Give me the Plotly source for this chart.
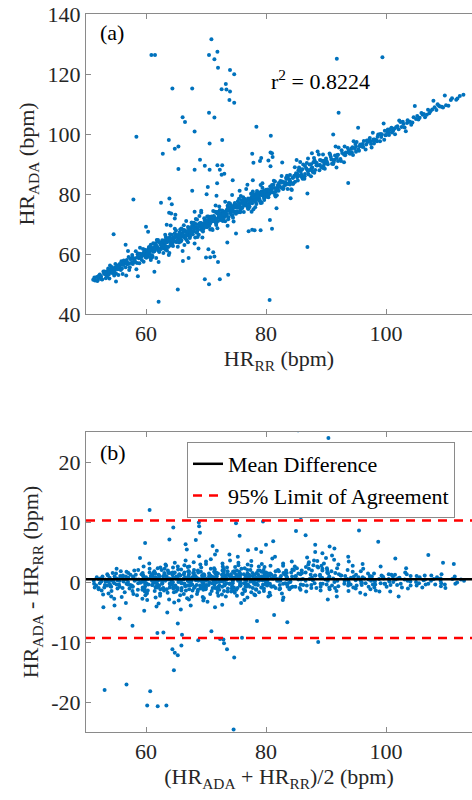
import plotly.graph_objects as go

# Heart rate pairs: HR_RR and the difference HR_ADA - HR_RR (bpm)
band_rr = [
    51.2, 51.5, 51.8, 52.0, 52.3, 52.5, 52.7, 53.0, 53.1, 53.4,
    53.6, 53.9, 54.1, 54.3, 54.6, 54.8, 55.0, 55.2, 55.5, 55.7,
    55.9, 56.1, 56.4, 56.6, 56.8, 57.0, 57.3, 57.5, 57.7, 57.9,
    58.2, 58.4, 58.6, 58.8, 59.1, 59.3, 59.5, 59.7, 59.9,
    51.4, 51.9, 52.4, 52.9, 53.3, 53.8, 54.4, 54.9, 55.4, 55.8,
    56.3, 56.9, 57.4, 57.8, 58.3, 58.9, 59.4, 59.8,
    60.1, 60.3, 60.5, 60.6, 60.8, 61.0, 61.2, 61.3, 61.5, 61.7,
    61.9, 62.0, 62.2, 62.4, 62.5, 62.7, 62.9, 63.1, 63.2, 63.4,
    63.6, 63.8, 63.9, 64.1, 64.3, 64.5, 64.6, 64.8, 65.0, 65.2,
    65.3, 65.5, 65.7, 65.9, 66.0, 66.2, 66.4, 66.6, 66.7, 66.9,
    67.1, 67.3, 67.4, 67.6, 67.8, 68.0, 68.1, 68.3, 68.5, 68.7,
    68.8, 69.0, 69.2, 69.4, 69.5, 69.7, 69.9,
    60.2, 60.7, 61.1, 61.6, 62.1, 62.6, 63.0, 63.5, 64.0, 64.4,
    64.9, 65.4, 65.8, 66.3, 66.8, 67.2, 67.7, 68.2, 68.6, 69.1, 69.6,
    60.4, 60.9, 61.4, 61.8, 62.3, 62.8, 63.3, 63.7, 64.2, 64.7,
    65.1, 65.6, 66.1, 66.5, 67.0, 67.5, 67.9, 68.4, 68.9, 69.3, 69.8,
    70.0, 70.2, 70.4, 70.5, 70.7, 70.9, 71.1, 71.2, 71.4, 71.6,
    71.8, 71.9, 72.1, 72.3, 72.5, 72.6, 72.8, 73.0, 73.2, 73.3,
    73.5, 73.7, 73.9, 74.0, 74.2, 74.4, 74.6, 74.7, 74.9, 75.1,
    75.3, 75.4, 75.6, 75.8, 76.0, 76.1, 76.3, 76.5, 76.7, 76.8,
    77.0, 77.2, 77.4, 77.5, 77.7, 77.9, 78.1, 78.2, 78.4, 78.6,
    78.8, 78.9, 79.1, 79.3, 79.5, 79.6, 79.8,
    70.3, 70.8, 71.3, 71.7, 72.2, 72.7, 73.1, 73.6, 74.1, 74.5,
    75.0, 75.5, 75.9, 76.4, 76.9, 77.3, 77.8, 78.3, 78.7, 79.2, 79.7,
    70.1, 70.6, 71.0, 71.5, 72.0, 72.4, 72.9, 73.4, 73.8, 74.3,
    74.8, 75.2, 75.7, 76.2, 76.6, 77.1, 77.6, 78.0, 78.5, 79.0, 79.4, 79.9,
    80.1, 80.4, 80.7, 80.9, 81.2, 81.5, 81.8, 82.0, 82.3, 82.6,
    82.9, 83.1, 83.4, 83.7, 84.0, 84.2, 84.5, 84.8, 85.1, 85.3,
    85.6, 85.9, 86.2, 86.4, 86.7, 87.0, 87.3, 87.5, 87.8, 88.1,
    88.4, 88.6, 88.9, 89.2, 89.5, 89.7,
    80.3, 80.8, 81.4, 82.1, 82.7, 83.3, 83.9, 84.6, 85.2, 85.8,
    86.5, 87.1, 87.7, 88.3, 89.0, 89.6,
    90.0, 90.3, 90.6, 90.9, 91.2, 91.5, 91.8, 92.1, 92.4, 92.7,
    93.0, 93.3, 93.6, 93.9, 94.2, 94.5, 94.8, 95.1, 95.4, 95.7,
    96.0, 96.3, 96.6, 96.9, 97.2, 97.5, 97.8, 98.1, 98.4, 98.7,
    99.0, 99.3, 99.6, 99.9,
    90.2, 90.8, 91.4, 92.0, 92.6, 93.2, 93.8, 94.4, 95.0, 95.6,
    96.2, 96.8, 97.4, 98.0, 98.6, 99.2, 99.8,
    100.2, 100.5, 100.9, 101.2, 101.5, 101.9, 102.2, 102.6, 102.9, 103.3,
    103.6, 104.0, 104.4, 104.8, 105.2, 105.6, 106.1, 106.5, 107.0, 107.4,
    107.9, 108.4, 108.8, 109.3, 109.8, 110.4, 111.0, 111.7, 112.3, 112.9,
    100.0, 100.7, 101.4, 102.1, 102.8, 103.5, 104.2, 105.0, 105.9, 106.8,
    107.7, 108.6, 109.5,
]
band_diff = [
    0.2, -0.3, 0.5, -0.6, 0.9, 0.1, -1.2, 0.4, 1.1, -0.5,
    0.7, -2.1, 0.3, 1.4, -0.8, 0.6, -1.5, 1.0, 0.2, -0.4,
    1.7, -2.8, 0.5, -1.0, 1.2, 0.0, -1.7, 0.8, 2.0, -0.6,
    0.4, -3.5, 1.3, -0.2, 0.9, -1.3, 2.2, 0.3, -0.9,
    0.8, -0.9, -0.2, 1.3, -1.4, 0.0, -0.7, 1.8, -2.4, 0.6,
    1.5, -0.3, 0.9, -1.1, 2.6, -2.0, 0.1, 1.6,
    0.5, -1.1, 1.6, -0.4, 2.3, -2.2, 0.8, -0.1, 1.2, -3.0,
    0.3, 2.7, -1.5, 0.9, -0.6, 1.9, -2.6, 0.2, 3.2, -1.0,
    0.6, -4.1, 1.4, -0.3, 2.1, -1.8, 0.7, 3.6, -0.9, 1.1,
    -2.9, 0.4, 2.5, -1.3, -0.2, 1.8, -3.4, 0.9, 4.3, -0.7,
    1.5, -2.0, 0.1, 2.9, -1.2, 0.6, -4.6, 1.7, 3.0, -0.5,
    -2.4, 1.0, 5.2, -1.6, 0.3, 2.2, -0.8,
    -0.7, 0.9, -1.9, 2.0, -0.4, 1.1, -1.2, 0.4, 2.6, -0.9,
    1.3, 0.0, -1.6, 3.3, 0.5, -0.6, 1.9, -2.7, 0.2, 1.2, -1.1,
    1.3, 0.2, -0.5, 0.7, 1.5, -0.2, 2.4, -1.4, 0.1, 0.6,
    -1.1, 1.6, 0.8, -0.3, 2.0, 1.0, -0.4, 0.6, 3.8, -0.6, 1.4,
    0.4, -1.3, 2.1, 0.9, -2.5, 1.6, -0.2, 3.1, 0.6, -1.0,
    1.9, -3.3, 0.3, 2.4, -0.7, 1.1, -1.8, 0.5, 4.2, -0.4,
    1.3, -2.1, 0.8, 2.8, -1.1, 0.1, -3.8, 1.7, 0.6, -0.9,
    2.3, -1.5, 0.2, 3.5, -0.6, 1.0, -2.3, 0.7, 5.0, -0.3,
    1.5, -1.4, 0.3, 2.6, -0.8, -3.0, 1.2, 0.4, -1.7, 2.0,
    0.9, -0.5, 3.9, -2.2, 0.6, 1.4, -0.9,
    -0.5, 0.8, 1.4, -2.0, 0.0, 1.8, -0.8, 2.5, -0.3, 1.2,
    -1.6, 0.5, 2.0, -0.2, -1.2, 1.0, 3.0, -1.0, 0.2, 1.6, -0.4,
    1.1, -0.1, 0.5, 2.6, -1.0, 0.7, 1.3, -0.6, 1.8, 0.3,
    2.2, 0.9, -1.3, 1.4, 0.2, -2.0, 0.6, 1.9, -0.2, 0.9, 2.7, 0.1,
    0.3, -1.5, 1.8, 0.6, -0.7, 2.7, -2.2, 1.0, 0.2, 3.4,
    -1.1, 0.8, 1.6, -0.4, 2.3, -2.6, 0.9, 4.1, 1.3, -0.8,
    2.9, 0.5, 3.6, -1.3, 1.9, 4.8, 0.7, 2.4, -0.5, 3.1,
    1.2, 5.6, -1.0, 2.0, 3.7, 0.4,
    1.2, -0.3, 0.6, -1.0, 1.5, -0.2, 0.9, -0.9, 0.4, 1.6,
    0.2, -0.6, 1.1, 2.2, 0.7, -0.3,
    1.8, -0.4, 2.9, 0.6, -1.2, 1.3, 0.2, 3.4, -0.7, 1.0,
    -2.4, 0.5, 1.7, -0.2, 0.9, -1.5, 0.3, 2.2, -0.6, 0.8,
    -0.1, 1.4, -1.8, 0.4, 0.9, -0.8, 2.6, 0.1, -0.4, 1.1,
    -1.4, 0.6, 3.9, -0.3,
    0.2, 1.5, 0.0, -1.0, 2.0, -0.3, 0.7, 1.2, -0.9, 0.3,
    -0.5, 1.0, 0.2, -1.2, 0.5, -0.2, 1.3,
    0.5, -0.8, 1.2, 0.0, -1.6, 0.7, 2.3, -0.3, 0.4, -2.4,
    1.0, 0.1, -0.6, 4.5, 0.8, -0.2, 0.3, -0.9, 1.1, 0.2,
    3.2, -0.4, 0.6, -0.2, 3.0, -1.0, 0.9, -0.3, 0.4, 0.2,
    -0.3, 0.9, 0.4, -0.5, 1.3, 0.2, -1.1, 0.0, 1.1, -0.4,
    0.5, 1.3, -0.7,
]

# more points from the dense core of the band
core_rr = [
    52.1, 52.6, 53.2, 53.7, 54.2, 54.7, 55.1, 55.6, 56.0, 56.5,
    56.7, 57.1, 57.6, 58.0, 58.5, 59.0, 59.2, 59.6,
    53.5, 54.0, 54.5, 55.3, 56.2, 57.2, 58.1, 58.7, 59.6, 57.0, 55.0, 59.0,
    60.0, 60.5, 61.0, 61.5, 62.0, 62.5, 63.0, 63.5, 64.0, 64.5,
    65.0, 65.5, 66.0, 66.5, 67.0, 67.5, 68.0, 68.5, 69.0, 69.5,
    60.3, 60.8, 61.3, 61.8, 62.3, 62.8, 63.3, 63.8, 64.3, 64.8,
    65.3, 65.8, 66.3, 66.8, 67.3, 67.8, 68.3, 68.8, 69.3, 69.8,
    60.6, 61.2, 61.9, 62.6, 63.2, 63.9, 64.6, 65.2, 65.9, 66.6,
    67.2, 67.9, 68.6, 69.2, 69.9, 62.1, 64.1, 66.1, 68.1, 69.4,
    70.0, 70.5, 71.0, 71.5, 72.0, 72.5, 73.0, 73.5, 74.0, 74.5,
    75.0, 75.5, 76.0, 76.5, 77.0, 77.5, 78.0, 78.5, 79.0, 79.5,
    70.2, 70.7, 71.2, 71.7, 72.2, 72.7, 73.2, 73.7, 74.2, 74.7,
    75.2, 75.7, 76.2, 76.7, 77.2, 77.7, 78.2, 78.7, 79.2, 79.7,
    70.4, 71.1, 71.8, 72.4, 73.1, 73.8, 74.4, 75.1, 75.8, 76.4,
    77.1, 77.8, 78.4, 79.1, 79.8, 71.6, 73.6, 75.6, 77.6, 79.4,
    80.0, 80.5, 81.0, 81.5, 82.0, 82.5, 83.0, 83.5, 84.0, 84.5,
    85.0, 85.5, 86.0, 86.5, 87.0, 87.5, 88.0, 88.5, 89.0, 89.5,
    80.2, 80.9, 81.6, 82.4, 83.2, 84.0, 84.7, 85.4, 86.1, 86.8,
    87.6, 88.2, 88.8, 89.4, 81.3, 83.6, 85.7, 87.9, 89.8, 84.3,
    90.1, 90.7, 91.3, 91.9, 92.5, 93.1, 93.7, 94.3, 94.9, 95.5,
    96.1, 96.7, 97.3, 97.9, 98.5, 99.1, 99.7, 91.6, 94.6, 97.6,
    100.3, 101.0, 101.7, 102.4, 103.1, 103.8, 104.6, 105.4, 106.3, 107.2,
    108.1, 109.0, 110.0, 110.8, 111.9,
]
core_diff = [
    0.6, -1.0, 0.1, 1.5, -0.4, -1.9, 0.3, 1.1, -0.8, 0.5,
    -3.9, 1.9, -0.5, 0.2, -1.5, 1.1, -0.1, -2.2,
    -0.9, 2.2, 0.1, -0.4, 0.9, -2.5, -0.7, 1.5, 0.6, 4.0, -4.2, 3.1,
    -0.3, 1.8, -1.4, 0.5, 2.2, -0.8, 0.9, -2.3, 1.6, -0.1,
    2.8, -1.7, 0.6, 1.3, -3.1, 0.2, 2.4, -1.0, 0.7, -2.0,
    1.0, -2.8, 0.1, 2.9, -0.9, 0.4, -1.9, 1.2, -0.5, 2.1,
    0.3, -1.0, 1.7, -2.2, 0.8, -0.4, 3.4, 1.1, -1.3, 0.5,
    -1.6, 2.4, -0.2, 0.3, 1.5, -3.6, 0.9, -0.6, 2.6, -1.4,
    0.0, 1.6, -2.9, 4.6, 0.2, -4.8, 5.4, -5.1, 6.0, -3.9,
    -0.8, 1.7, -2.7, 0.4, 2.0, -1.2, 0.7, -0.2, 1.5, -2.4,
    0.9, 2.9, -0.6, 0.3, -1.9, 1.2, 0.0, 2.5, -1.3, 0.6,
    2.3, -0.5, 1.0, -1.5, 3.6, 0.1, -2.3, 0.9, 1.9, -0.7,
    0.4, -1.8, 2.7, 0.8, -0.4, 1.5, -2.6, 0.3, 1.1, -1.7,
    0.6, -3.1, 2.2, -0.9, 0.5, 3.2, -1.6, 1.3, -0.2, 2.0,
    -0.8, 0.4, 1.7, -2.1, 0.9, 4.6, -4.2, 5.5, -3.5, 4.2,
    1.4, -0.6, 2.0, -1.8, 0.7, 1.5, -0.3, 2.6, 0.1, -1.2,
    1.9, 3.3, -0.4, 2.8, 0.5, -1.6, 4.0, 1.0, 2.3, -0.8,
    -1.1, 0.8, -2.4, 1.9, 0.5, -0.8, 1.4, 2.5, -1.0, 3.5,
    1.1, -0.2, 4.4, 1.6, 3.1, -1.9, 5.0, 2.7, -1.4, -3.0,
    0.9, 2.3, -0.6, 1.1, -1.5, 2.7, 0.1, -0.4, 1.8, -1.1,
    0.6, -0.2, 1.4, 0.3, -0.9, 0.8, -1.6, 4.2, 3.0, -2.1,
    1.2, -0.5, 0.6, 1.6, -0.9, 0.3, 1.0, -0.6, 0.4, -0.3,
    0.8, 0.2, -0.4, 0.5, -0.1,
]

# tightly clustered points close to zero difference
tight_rr = [
    53.3, 53.8, 54.3, 54.8, 55.3, 55.8, 56.2, 56.7, 57.2, 57.7,
    58.2, 58.6, 59.1, 59.6, 60.05, 60.45, 60.85, 61.25, 61.65, 62.05,
    62.45, 62.85, 63.25, 63.65, 64.05, 64.45, 64.85, 65.25, 65.65, 66.05,
    66.45, 66.85, 67.25, 67.65, 68.05, 68.45, 68.85, 69.25, 69.65, 70.05,
    70.45, 70.85, 71.25, 71.65, 72.05, 72.45, 72.85, 73.25, 73.65, 74.05,
    74.45, 74.85, 75.25, 75.65, 76.05, 76.45, 76.85, 77.25, 77.65, 78.05,
    78.45, 78.85, 79.25, 79.65, 80.05, 80.45, 80.85, 81.25, 81.65, 82.05,
    82.45, 82.85, 83.25, 83.65, 84.05, 84.45, 84.85, 85.25, 85.65, 86.05,
    86.45, 86.85, 87.25, 87.65, 88.05, 88.45, 88.85, 89.25, 89.65, 90.05,
    91.0, 92.0, 93.0, 94.0, 95.0, 96.0, 97.0, 98.0, 99.0, 100.5,
    60.15, 60.55, 60.95, 61.35, 61.75, 62.15, 62.55, 62.95, 63.35, 63.75,
    64.15, 64.55, 64.95, 65.35, 65.75, 66.15, 66.55, 66.95, 67.35, 67.75,
    68.15, 68.55, 68.95, 69.35, 69.75, 70.15, 70.55, 70.95, 71.35, 71.75,
    72.15, 72.55, 72.95, 73.35, 73.75, 74.15, 74.55, 74.95, 75.35, 75.75,
    76.15, 76.55, 76.95, 77.35, 77.75, 78.15, 78.55, 78.95, 79.35, 79.75,
    80.15, 80.55, 80.95, 81.35, 81.75, 82.15, 82.55, 82.95, 83.35, 83.75,
]
tight_diff = [
    0.3, -0.6, 0.9, -0.2, 0.5, -1.1, 0.1, 0.7, -0.4, 1.2,
    -0.8, 0.4, -0.1, 0.8, -1.3, 0.6, 1.4, -0.5, 0.2, -0.9,
    1.1, -0.3, 0.5, 1.6, -1.2, 0.0, 0.8, -0.7, 1.3, 0.4,
    -1.0, 0.2, 1.5, -0.6, 0.7, -1.4, 0.3, 1.0, -0.2, 0.9,
    -0.9, 1.4, 0.1, -0.5, 1.2, 0.6, -1.3, 0.4, 1.7, -0.3,
    0.8, -1.1, 0.2, 1.3, -0.6, 0.5, 1.0, -1.5, 0.1, 0.7,
    -0.4, 1.6, 0.3, -0.9, 1.1, -0.2, 0.6, 1.8, -0.7, 0.2,
    1.3, -1.2, 0.5, 2.0, 0.0, 1.0, -0.8, 1.5, 0.4, 2.2,
    -0.5, 1.2, 2.6, 0.3, -1.0, 1.9, 0.7, -0.3, 1.4, 0.6,
    -0.9, 1.1, 0.2, -0.6, 0.8, -0.2, 0.5, -0.4, 0.9, 0.1,
    -0.2, 0.9, -1.6, 0.4, 1.0, -0.7, 0.2, 1.5, -1.1, 0.5,
    0.7, -0.4, 1.2, -0.9, 0.1, 1.8, -0.3, 0.6, -1.4, 1.0,
    0.3, -0.8, 1.3, 0.0, -0.5, 1.1, -1.2, 0.4, 0.9, -0.1,
    1.6, -0.6, 0.2, 1.0, -1.5, 0.7, -0.2, 1.4, 0.3, -1.0,
    0.5, 1.2, -0.7, 0.1, 1.9, -0.3, 0.8, -1.2, 0.4, 1.3,
    -0.4, 0.6, 1.1, -0.8, 0.2, 1.5, -0.5, 0.9, 2.1, -0.2,
]

# scattered outliers (HR_RR, HR_ADA - HR_RR)
outlier_rr = [
    60.9, 61.5, 70.9, 70.5, 71.9, 71.4, 72.0, 74.0, 74.7, 72.6,
    73.4, 74.0, 73.3, 73.9, 74.7, 64.4, 67.7, 91.8, 99.4, 70.5,
    71.4, 66.1, 66.5, 92.1, 78.4, 58.4, 63.8, 64.8, 65.4, 68.1,
    72.7, 70.6, 80.8, 81.0, 62.8, 65.4, 69.0, 69.8, 70.6, 71.9,
    72.7, 72.3, 72.6, 68.1, 57.9, 62.5, 63.9, 64.3, 64.2, 67.7,
    70.1, 77.7, 79.2, 81.1, 77.9, 54.6, 56.6, 60.0, 81.0, 77.1,
    78.1, 79.1, 86.9, 84.1, 86.9, 93.7, 71.2, 71.4, 70.7, 72.0,
    73.7, 72.3, 69.8, 70.5, 65.3, 62.1, 80.6, 61.4, 91.2,
    60.35, 63.45, 64.8, 64.9, 71.75, 74.35, 77.8, 76.9, 80.75, 82.7,
    85.1, 87.65, 95.35, 63.85, 58.65, 66.15, 67.1, 68.75, 70.4, 70.0,
    75.0, 81.75, 91.75, 80.65, 77.7, 73.55, 70.3, 71.85, 73.05, 80.75,
    79.0, 80.4, 74.45,
]
outlier_diff = [
    65.4, 64.8, 60.7, 55.8, 55.5, 53.5, 50.1, 47.3, 45.2, 42.3,
    41.4, 40.2, 43.4, 37.4, 35.7, 50.8, 47.5, 33.3, 26.2, 36.6,
    34.1, 39.5, 37.5, 15.0, 24.0, 40.7, 34.2, 30.3, 30.4, 32.7,
    25.3, 26.2, 18.6, 12.6, 30.6, 22.9, 22.4, 19.6, 17.5, 17.7,
    16.9, 15.8, 13.8, 20.0, 20.3, 14.6, 14.6, 12.3, 9.3, 13.4,
    9.8, 15.7, 12.8, 11.2, 12.5, 12.0, 6.5, 9.1, -12.6, -9.5,
    -10.2, -11.2, -24.6, -5.5, -6.7, -10.0, -10.6, -12.2, -11.8, -14.7,
    -20.6, -20.7, -18.2, -20.6, -17.1, -18.0, -35.9, -7.3, 8.6,
    7.1, 6.3, 7.0, 8.2, 7.7, 5.3, 6.8, 6.2, 8.5, 7.8,
    6.2, 5.9, 6.7, 9.9, -6.1, -8.5, -8.4, -6.9, -8.8, -11.2,
    -8.2, -6.5, -2.9, -9.3, -9.6, -9.7, 12.0, 11.7, 13.7, 13.1,
    12.0, 10.8, 10.1,
]

mean_diff = 0.45
loa_upper = 10.25
loa_lower = -9.35
r_squared = 0.8224

x_range = [50, 114.33]

assert len(band_rr) == len(band_diff), (len(band_rr), len(band_diff))
assert len(core_rr) == len(core_diff), (len(core_rr), len(core_diff))
assert len(tight_rr) == len(tight_diff), (len(tight_rr), len(tight_diff))
assert len(outlier_rr) == len(outlier_diff), (len(outlier_rr), len(outlier_diff))

hr_rr = band_rr + core_rr + tight_rr + outlier_rr
hr_diff = band_diff + core_diff + tight_diff + outlier_diff
hr_ada = [r + d for r, d in zip(hr_rr, hr_diff)]
hr_mean = [(r + a) / 2 for r, a in zip(hr_rr, hr_ada)]

FONT = "Liberation Serif"
FS = 22
BLUE = "#0072BD"
AXCOL = "#8a8a8a"
TXT = "#262626"

fig = go.Figure()

# (a) correlation
fig.add_trace(go.Scatter(
    x=hr_rr, y=hr_ada, mode="markers",
    marker=dict(color=BLUE, size=4, line=dict(width=0)),
    xaxis="x", yaxis="y", showlegend=False, hoverinfo="skip",
))

# (b) Bland-Altman
fig.add_trace(go.Scatter(
    x=hr_mean, y=hr_diff, mode="markers",
    marker=dict(color=BLUE, size=4, line=dict(width=0)),
    xaxis="x2", yaxis="y2", showlegend=False, hoverinfo="skip",
))
fig.add_trace(go.Scatter(
    x=x_range, y=[mean_diff, mean_diff], mode="lines",
    line=dict(color="black", width=2.5),
    xaxis="x2", yaxis="y2", name="Mean Difference",
))
fig.add_trace(go.Scatter(
    x=x_range + [None] + x_range,
    y=[loa_upper, loa_upper, None, loa_lower, loa_lower], mode="lines",
    line=dict(color="#ff0000", width=2.5, dash="9px,7px"),
    xaxis="x2", yaxis="y2", name="95% Limit of Agreement",
))

axis_common = dict(
    showgrid=False, zeroline=False, showline=True, linecolor=AXCOL, linewidth=1,
    ticks="inside", ticklen=5, tickcolor=AXCOL, automargin=False,
    tickfont=dict(family=FONT, size=FS, color=TXT),
)
title_font = dict(family=FONT, size=FS, color=TXT)
x_dom = [86 / 472, 1.0]

fig.update_layout(
    width=472, height=800,
    margin=dict(l=0, r=0, t=0, b=0),
    paper_bgcolor="white", plot_bgcolor="white",
    font=dict(family=FONT, size=FS, color=TXT),
    xaxis=dict(axis_common, domain=x_dom, range=x_range, tickvals=[60, 80, 100],
               mirror="ticks", anchor="y",
               title=dict(text="HR<sub>RR</sub> (bpm)", standoff=4, font=title_font)),
    yaxis=dict(axis_common, domain=[1 - 314 / 800, 1 - 14 / 800], range=[40, 140],
               tickvals=[40, 60, 80, 100, 120, 140], anchor="x",
               title=dict(text="HR<sub>ADA</sub> (bpm)", standoff=6, font=title_font)),
    xaxis2=dict(axis_common, domain=x_dom, range=x_range, tickvals=[60, 80, 100],
                mirror="ticks", anchor="y2",
                title=dict(text="(HR<sub>ADA</sub> + HR<sub>RR</sub>)/2 (bpm)", standoff=4,
                           font=title_font)),
    yaxis2=dict(axis_common, domain=[1 - 732 / 800, 1 - 432 / 800], range=[-25, 25],
                tickvals=[-20, -10, 0, 10, 20], ticktext=["-20", "-10", "0", "10", "20"],
                anchor="x2",
                title=dict(text="HR<sub>ADA</sub> - HR<sub>RR</sub> (bpm)", standoff=6,
                           font=title_font)),
    legend=dict(
        x=187 / 472, y=1 - 442 / 800, xanchor="left", yanchor="top",
        bgcolor="white", bordercolor=AXCOL, borderwidth=1,
        font=dict(family=FONT, size=FS, color="black"),
        tracegroupgap=0,
    ),
    annotations=[
        dict(text="(a)", xref="x domain", yref="y domain", x=0.03, y=0.937,
             xanchor="left", yanchor="middle", showarrow=False,
             font=dict(family=FONT, size=FS, color="black")),
        dict(text="r<sup>2</sup> = %.4f" % r_squared, xref="x domain", yref="y domain",
             x=0.475, y=0.78, xanchor="left", yanchor="middle", showarrow=False,
             font=dict(family=FONT, size=FS, color="black")),
        dict(text="(b)", xref="x2 domain", yref="y2 domain", x=0.03, y=0.933,
             xanchor="left", yanchor="middle", showarrow=False,
             font=dict(family=FONT, size=FS, color="black")),
    ],
)

# drop the browser's default page margin so the figure sits at the window origin
fig.write_html("out.html", config={"displayModeBar": False},
               post_script="document.body.style.margin = '0';")
